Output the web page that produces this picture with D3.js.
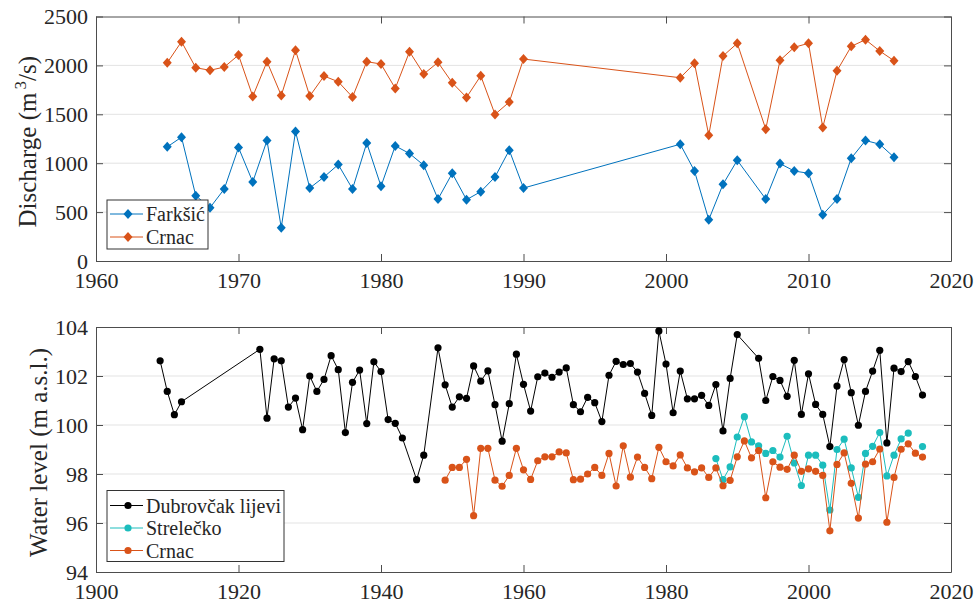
<!DOCTYPE html>
<html><head><meta charset="utf-8">
<script src="https://cdn.jsdelivr.net/npm/d3@7"></script>
<style>
html,body{margin:0;padding:0;background:#fff;}
svg text{font-family:"Liberation Serif","Times New Roman",serif;fill:#262626;}
</style></head>
<body><svg id="c" width="977" height="604"></svg>
<script>
// ---------- DATA ----------
const flowYears = [1965,1966,1967,1968,1969,1970,1971,1972,1973,1974,1975,1976,1977,1978,1979,1980,1981,1982,1983,1984,1985,1986,1987,1988,1989,1990,
  2001,2002,2003,2004,2005,2007,2008,2009,2010,2011,2012,2013,2014,2015,2016];
const farksic = [1167,1266,668,545,736,1160,808,1232,340,1324,746,859,986,736,1207,764,1177,1099,979,633,897,627,709,859,1133,746,
  1194,920,422,784,1030,633,996,920,897,474,633,1051,1232,1194,1061];
const crnacFlow = [2027,2243,1976,1950,1983,2106,1683,2038,1693,2154,1686,1891,1833,1676,2038,2014,1765,2140,1912,2031,1822,1673,1894,1499,1625,2065,
  1874,2021,1286,2096,2226,1348,2052,2185,2226,1365,1945,2195,2263,2147,2048];

const dubYears = [1909,1910,1911,1912,
  1923,1924,1925,1926,1927,1928,1929,1930,1931,1932,1933,1934,1935,1936,1937,1938,1939,1940,1941,1942,1943,
  1945,1946,
  1948,1949,1950,1951,1952,1953,1954,1955,1956,1957,1958,1959,1960,1961,1962,1963,1964,1965,1966,1967,1968,1969,
  1970,1971,1972,1973,1974,1975,1976,1977,1978,1979,1980,1981,1982,1983,1984,1985,1986,1987,1988,1989,1990,
  1993,1994,1995,1996,1997,1998,1999,2000,2001,2002,2003,2004,2005,2006,2007,2008,2009,2010,2011,2012,2013,2014,2015,2016];
const dubrovcak = [102.62,101.37,100.42,100.95,
  103.09,100.28,102.70,102.62,100.73,101.10,99.81,102.00,101.37,101.86,102.83,102.26,99.69,101.74,102.24,100.06,102.58,102.18,100.22,100.07,99.47,
  97.77,98.77,
  103.15,101.64,100.73,101.15,101.09,102.41,101.79,102.21,100.83,99.34,100.87,102.89,101.66,100.57,101.97,102.12,101.95,102.16,102.33,100.83,100.54,101.13,
  100.91,100.14,102.03,102.60,102.47,102.51,102.16,101.29,100.39,103.84,102.49,100.50,102.20,101.07,101.07,101.21,100.80,101.65,99.76,101.90,103.69,
  102.72,101.00,101.98,101.82,101.17,102.64,100.43,102.09,100.84,100.43,99.12,101.59,102.67,101.32,99.99,101.37,102.20,103.05,99.27,102.32,102.18,102.59,101.98,101.22];

const streYears = [1987,1988,1989,1990,1991,1992,1993,1994,1995,1996,1997,1998,1999,2000,2001,2002,2003,2004,2005,2006,2007,2008,2009,2010,2011,2012,2013,2014,2015,2016];
const strelecko = [98.63,97.77,98.29,99.51,100.34,99.31,99.15,98.84,98.96,98.69,99.54,98.45,97.53,98.77,98.77,98.36,96.53,99.00,99.42,98.25,97.05,98.84,99.13,99.69,97.92,98.77,99.43,99.67,null,99.12];

const crnacLevelYears = [1949,1950,1951,1952,1953,1954,1955,1956,1957,1958,1959,1960,1961,1962,1963,1964,1965,1966,1967,1968,1969,
  1970,1971,1972,1973,1974,1975,1976,1977,1978,1979,1980,1981,1982,1983,1984,1985,1986,1987,1988,1989,
  1990,1991,1992,1993,1994,1995,1996,1997,1998,1999,2000,2001,2002,2003,2004,2005,2006,2007,2008,2009,2010,2011,2012,2013,2014,2015,2016];
const crnacLevel = [97.75,98.27,98.27,98.60,96.30,99.05,99.05,97.75,97.50,97.94,99.05,98.17,97.78,98.54,98.70,98.70,98.90,98.86,97.77,97.79,98.00,
  98.27,97.94,98.84,97.51,99.15,97.87,98.69,98.27,97.81,99.09,98.50,98.33,98.78,98.25,98.09,98.25,97.86,98.25,97.52,97.74,
  98.70,99.35,98.66,98.96,97.03,98.50,98.28,98.19,98.77,98.11,98.21,98.11,97.94,95.68,98.39,98.86,97.62,96.20,98.40,98.50,99.02,96.03,97.86,99.01,99.23,98.85,98.69];

const topXTicks = [1960,1970,1980,1990,2000,2010,2020];
const topYTicks = [0,500,1000,1500,2000,2500];
const botXTicks = [1900,1920,1940,1960,1980,2000,2020];
const botYTicks = [94,96,98,100,102,104];

// ---------- STYLE ----------
const C_BLUE = "#0072BD", C_ORANGE = "#D95319", C_CYAN = "#1CBDBD", C_BLACK = "#000000";
const AX = "#4d4d4d", GRID = "#e3e3e3";
const FONT = "Liberation Serif, Times New Roman, serif";
const svg = d3.select("#c");
const L = 96, R = 951;

function panel(cfg) {
  const x = d3.scaleLinear().domain(cfg.xDom).range([L, R]);
  const y = d3.scaleLinear().domain(cfg.yDom).range([cfg.bottom, cfg.top]);
  const g = svg.append("g");
  g.selectAll(".grid").data(cfg.yTicks.filter(v => v !== cfg.yDom[0] && v !== cfg.yDom[1]))
    .join("line").attr("x1", L).attr("x2", R).attr("y1", d => y(d)).attr("y2", d => y(d))
    .attr("stroke", GRID).attr("stroke-width", 1);
  const fmt = d3.format("d");
  const bx = d3.axisBottom(x).tickValues(cfg.xTicks).tickFormat(fmt).tickSizeInner(-7).tickSizeOuter(0).tickPadding(11);
  const tx = d3.axisTop(x).tickValues(cfg.xTicks).tickFormat("").tickSizeInner(-7).tickSizeOuter(0);
  const ly = d3.axisLeft(y).tickValues(cfg.yTicks).tickFormat(fmt).tickSizeInner(-7).tickSizeOuter(0).tickPadding(8);
  const ry = d3.axisRight(y).tickValues(cfg.yTicks).tickFormat("").tickSizeInner(-7).tickSizeOuter(0);
  const axes = [
    g.append("g").attr("transform", `translate(0,${cfg.bottom})`).call(bx),
    g.append("g").attr("transform", `translate(0,${cfg.top})`).call(tx),
    g.append("g").attr("transform", `translate(${L},0)`).call(ly),
    g.append("g").attr("transform", `translate(${R},0)`).call(ry)
  ];
  axes.forEach(a => {
    a.attr("font-family", FONT).attr("font-size", 22);
    a.selectAll("path").attr("stroke", AX).attr("stroke-width", 1);
    a.selectAll("line").attr("stroke", AX).attr("stroke-width", 1);
    a.selectAll("text").attr("font-size", 22).attr("fill", "#262626");
  });
  const lab = g.append("text").attr("transform", `translate(${cfg.labelX},${(cfg.top + cfg.bottom) / 2 + 3}) rotate(-90)`)
    .attr("text-anchor", "middle").attr("font-size", 25);
  cfg.label(lab);
  return { g, x, y };
}

function diamondPath(s) { const w = s * 0.9, h = s; return `M0,${-h}L${w},0L0,${h}L${-w},0Z`; }

function drawSeries(p, years, vals, color, marker) {
  const pts = years.map((yr, i) => ({ yr, v: vals[i] }));
  const line = d3.line().defined(d => d.v !== null).x(d => p.x(d.yr)).y(d => p.y(d.v));
  p.g.append("path").datum(pts).attr("d", line).attr("fill", "none").attr("stroke", color).attr("stroke-width", 1);
  const dp = pts.filter(d => d.v !== null);
  if (marker === "diamond") {
    p.g.selectAll(null).data(dp).join("path").attr("d", diamondPath(5))
      .attr("transform", d => `translate(${p.x(d.yr)},${p.y(d.v)})`).attr("fill", color);
  } else {
    p.g.selectAll(null).data(dp).join("circle").attr("cx", d => p.x(d.yr)).attr("cy", d => p.y(d.v))
      .attr("r", 3.6).attr("fill", color);
  }
}

function legend(box, items, marker) {
  const g = svg.append("g");
  g.append("rect").attr("x", box.x).attr("y", box.y).attr("width", box.w).attr("height", box.h)
    .attr("fill", "#fff").attr("stroke", "#333").attr("stroke-width", 1);
  items.forEach((it, i) => {
    const cy = box.y + box.first + i * box.step;
    g.append("line").attr("x1", box.x + 3).attr("x2", box.x + 36).attr("y1", cy).attr("y2", cy)
      .attr("stroke", it.color).attr("stroke-width", 1);
    if (marker === "diamond") g.append("path").attr("d", diamondPath(5)).attr("transform", `translate(${box.x + 21},${cy})`).attr("fill", it.color);
    else g.append("circle").attr("cx", box.x + 21).attr("cy", cy).attr("r", 3.6).attr("fill", it.color);
    g.append("text").attr("x", box.x + 39).attr("y", cy).attr("dy", "0.35em").attr("font-size", 20).text(it.name);
  });
}

// ---------- TOP PANEL ----------
const topPanel = panel({
  xDom: [1960, 2020], yDom: [0, 2500], top: 16.5, bottom: 261,
  xTicks: topXTicks, yTicks: topYTicks, labelX: 36,
  label: t => {
    t.append("tspan").text("Discharge (m");
    t.append("tspan").attr("font-size", 17).attr("dy", -10).attr("dx", 3).text("3");
    t.append("tspan").attr("dy", 10).text("/s)");
  }
});
drawSeries(topPanel, flowYears, farksic, C_BLUE, "diamond");
drawSeries(topPanel, flowYears, crnacFlow, C_ORANGE, "diamond");
legend({ x: 107, y: 200, w: 101, h: 49, first: 14, step: 23 },
  [{ name: "Farkšić", color: C_BLUE }, { name: "Crnac", color: C_ORANGE }], "diamond");

// ---------- BOTTOM PANEL ----------
const botPanel = panel({
  xDom: [1900, 2020], yDom: [94, 104], top: 327, bottom: 572,
  xTicks: botXTicks, yTicks: botYTicks, labelX: 46.5,
  label: t => t.text("Water level (m a.s.l.)")
});
drawSeries(botPanel, dubYears, dubrovcak, C_BLACK, "circle");
drawSeries(botPanel, streYears, strelecko, C_CYAN, "circle");
drawSeries(botPanel, crnacLevelYears, crnacLevel, C_ORANGE, "circle");
legend({ x: 107, y: 490.5, w: 177, h: 71, first: 15, step: 22.5 },
  [{ name: "Dubrovčak lijevi", color: C_BLACK }, { name: "Strelečko", color: C_CYAN }, { name: "Crnac", color: C_ORANGE }], "circle");
</script></body></html>
